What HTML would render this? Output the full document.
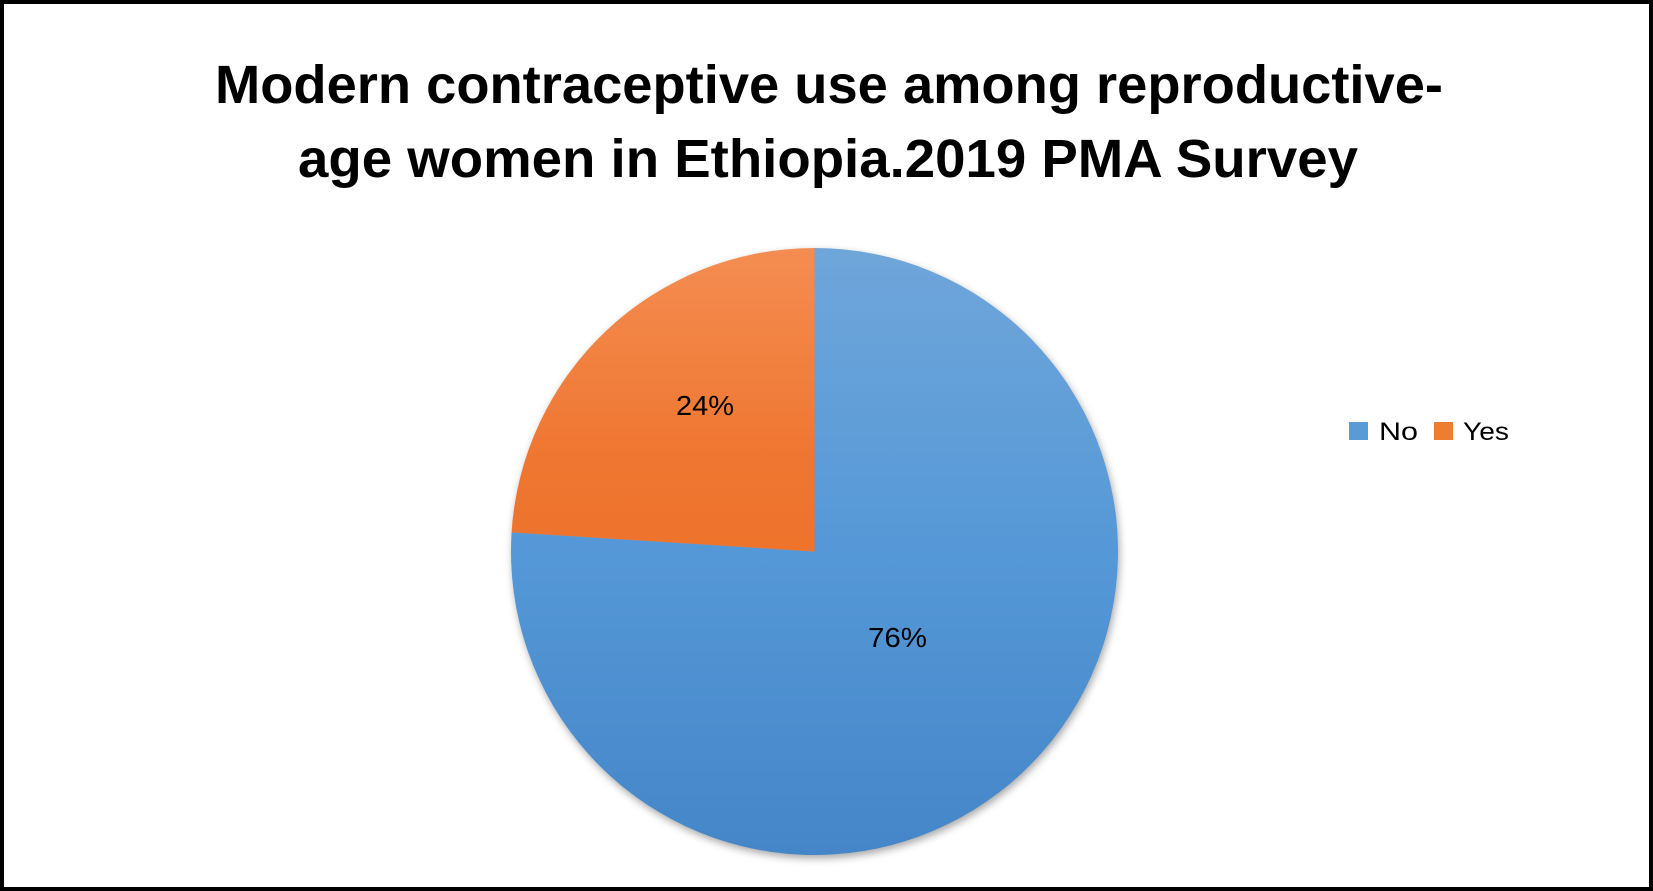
<!DOCTYPE html>
<html>
<head>
<meta charset="utf-8">
<style>
  html,body{margin:0;padding:0;background:#fff;}
  body{width:1653px;height:891px;overflow:hidden;}
  svg{display:block;}
</style>
</head>
<body>
<svg width="1653" height="891" viewBox="0 0 1653 891" xmlns="http://www.w3.org/2000/svg">
  <defs>
    <linearGradient id="gBlue" x1="0" y1="248" x2="0" y2="855" gradientUnits="userSpaceOnUse">
      <stop offset="0" stop-color="#6fa6da"/>
      <stop offset="0.5" stop-color="#5598d7"/>
      <stop offset="1" stop-color="#4486c8"/>
    </linearGradient>
    <linearGradient id="gOrange" x1="0" y1="248" x2="0" y2="855" gradientUnits="userSpaceOnUse">
      <stop offset="0" stop-color="#f48d52"/>
      <stop offset="0.35" stop-color="#ef7630"/>
      <stop offset="1" stop-color="#e86a1f"/>
    </linearGradient>
    <filter id="shadow" x="-10%" y="-10%" width="120%" height="120%">
      <feGaussianBlur stdDeviation="4"/>
    </filter>
  </defs>
  <rect x="0" y="0" width="1653" height="891" fill="#000"/>
  <rect x="4" y="4" width="1645" height="883" fill="#fff"/>

  <text x="829" y="103" font-family="Liberation Sans, Arial, sans-serif" font-weight="bold" font-size="54" text-anchor="middle" textLength="1228" lengthAdjust="spacingAndGlyphs" fill="#000">Modern contraceptive use among reproductive-</text>
  <text x="828" y="177" font-family="Liberation Sans, Arial, sans-serif" font-weight="bold" font-size="54" text-anchor="middle" textLength="1060" lengthAdjust="spacingAndGlyphs" fill="#000">age women in Ethiopia.2019 PMA Survey</text>

  <!-- shadow -->
  <circle cx="816" cy="555" r="303.5" fill="#8a8a8a" opacity="0.75" filter="url(#shadow)"/>
  <!-- No slice (76%) -->
  <path d="M814.5,551.5 L814.5,248 A303.5,303.5 0 1 1 511.6,532.4 Z" fill="url(#gBlue)"/>
  <!-- Yes slice (24%) -->
  <path d="M814.5,551.5 L511.6,532.4 A303.5,303.5 0 0 1 814.5,248 Z" fill="url(#gOrange)"/>

  <text x="705" y="415" font-family="Liberation Sans, Arial, sans-serif" font-size="28" text-anchor="middle" textLength="58" lengthAdjust="spacingAndGlyphs" fill="#000">24%</text>
  <text x="897.5" y="647" font-family="Liberation Sans, Arial, sans-serif" font-size="28" text-anchor="middle" textLength="59" lengthAdjust="spacingAndGlyphs" fill="#000">76%</text>

  <!-- legend -->
  <rect x="1349" y="422" width="19" height="18" fill="#5b9bd5"/>
  <text x="1379" y="440" font-family="Liberation Sans, Arial, sans-serif" font-size="25" textLength="39" lengthAdjust="spacingAndGlyphs" fill="#000">No</text>
  <rect x="1434" y="422" width="19" height="18" fill="#ed7d31"/>
  <text x="1463" y="440" font-family="Liberation Sans, Arial, sans-serif" font-size="25" textLength="46" lengthAdjust="spacingAndGlyphs" fill="#000">Yes</text>
</svg>
</body>
</html>
